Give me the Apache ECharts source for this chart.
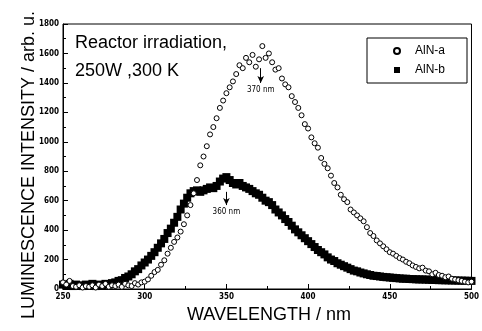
<!DOCTYPE html>
<html>
<head>
<meta charset="utf-8">
<script src="https://cdn.jsdelivr.net/npm/echarts@6/dist/echarts.min.js"></script>
<style>
html,body{margin:0;padding:0;background:#fff;}
#chart{width:482px;height:331px;}
</style>
</head>
<body>
<div id="chart"></div>
<script>
// Wavelength (nm) sampling points, 250..500 every 2 nm
const wavelengths = [
250,252,254,256,258,260,262,264,266,268,270,272,274,276,278,280,282,284,286,288,
290,292,294,296,298,300,302,304,306,308,310,312,314,316,318,320,322,324,326,328,
330,332,334,336,338,340,342,344,346,348,350,352,354,356,358,360,362,364,366,368,
370,372,374,376,378,380,382,384,386,388,390,392,394,396,398,400,402,404,406,408,
410,412,414,416,418,420,422,424,426,428,430,432,434,436,438,440,442,444,446,448,
450,452,454,456,458,460,462,464,466,468,470,472,474,476,478,480,482,484,486,488,
490,492,494,496,498,500
];
// AlN-a (open circles), arb. u.
const alnA = [
45,30,55,20,15,25,10,20,15,25,10,30,20,35,15,25,20,30,15,35,
25,20,40,30,45,50,65,90,115,130,165,195,240,280,320,350,390,440,500,570,
650,740,840,900,970,1050,1100,1160,1230,1280,1330,1370,1410,1460,1520,1500,1570,1540,1590,1510,
1560,1650,1570,1600,1540,1490,1500,1430,1390,1370,1310,1270,1230,1180,1120,1090,1030,990,960,890,
850,820,770,720,690,640,610,590,540,520,500,480,460,420,380,360,330,310,290,270,
250,240,225,210,200,185,175,160,150,140,145,125,120,100,110,95,90,80,85,70,
65,60,55,50,45,50
];
// AlN-b (filled squares), arb. u.
const alnB = [
30,25,35,20,30,25,20,30,25,35,20,30,25,35,30,40,45,55,60,75,
85,100,120,135,160,180,200,225,250,280,310,340,380,410,450,490,540,580,620,650,
665,670,660,670,680,690,685,700,730,750,760,740,720,710,720,700,690,680,665,650,
640,620,600,590,570,540,520,500,475,455,430,405,385,365,345,325,305,285,265,250,
235,215,200,190,175,165,155,145,135,125,120,112,106,100,95,90,88,85,82,80,
78,76,74,72,70,70,68,67,66,65,65,64,63,62,61,60,60,59,59,58,
58,57,57,56,56,55
];
const seriesNames = ['AlN-a', 'AlN-b'];
const xTicks = {min: 250, max: 500, step: 50};
const yTicks = {min: 0, max: 1800, step: 200};
// Peak annotations: [wavelength, arrow start value, arrow end value, label]
const peakA = [371, 1500, 1400, '370 nm'];
const peakB = [350, 660, 570, '360 nm'];

const pairs = (xs, ys) => xs.map((x, i) => [x, ys[i]]);
const tickFont = '"Liberation Sans Narrow","DejaVu Sans Condensed","Arial Narrow",sans-serif';
const mainFont = '"Liberation Sans",Arial,sans-serif';

function arrowMark(p) {
  return {
    silent: true,
    symbol: ['none', 'arrow'],
    symbolSize: [5, 7],
    lineStyle: {color: '#000', width: 1, type: 'solid'},
    label: {show: true, position: 'end', formatter: p[3], color: '#000',
            fontSize: 8, fontFamily: tickFont, distance: 3},
    data: [[{coord: [p[0], p[1]]}, {coord: [p[0], p[2]]}]]
  };
}

const chart = echarts.init(document.getElementById('chart'), null, {renderer: 'canvas'});
chart.setOption({
  animation: false,
  backgroundColor: '#fff',
  grid: {left: 63, right: 4, top: 24, bottom: 42, show: true,
         borderColor: '#000', borderWidth: 1, backgroundColor: 'transparent'},
  xAxis: {
    type: 'value', min: xTicks.min, max: xTicks.max, interval: xTicks.step,
    axisLine: {lineStyle: {color: '#000', width: 1}},
    axisTick: {inside: true, length: 5, lineStyle: {color: '#000'}},
    minorTick: {show: true, splitNumber: 2, length: 3, lineStyle: {color: '#000'}},
    splitLine: {show: false},
    axisLabel: {color: '#000', fontSize: 8, fontWeight: 'bold', fontFamily: tickFont, margin: 4,
                formatter: v => String(v)}
  },
  yAxis: {
    type: 'value', min: yTicks.min, max: yTicks.max, interval: yTicks.step,
    axisLine: {show: true, lineStyle: {color: '#000', width: 1}},
    axisTick: {show: true, inside: true, length: 5, lineStyle: {color: '#000'}},
    minorTick: {show: true, splitNumber: 2, length: 3, lineStyle: {color: '#000'}},
    splitLine: {show: false},
    axisLabel: {color: '#000', fontSize: 8, fontWeight: 'bold', fontFamily: tickFont, margin: 4,
                formatter: v => String(v)}
  },
  legend: {
    left: 367, top: 38, orient: 'vertical',
    data: seriesNames,
    backgroundColor: '#fff', borderColor: '#000', borderWidth: 1,
    padding: [7, 22, 7, 26], itemGap: 7, itemWidth: 6, itemHeight: 6,
    textStyle: {color: '#000', fontSize: 12, fontFamily: mainFont, padding: [0, 0, 0, 10]}
  },
  graphic: [
    {type: 'text', left: 75, top: 34, silent: true,
     style: {text: 'Reactor irradiation,', fill: '#000', font: '18px ' + mainFont}},
    {type: 'text', left: 75, top: 62, silent: true,
     style: {text: '250W ,300 K', fill: '#000', font: '18px ' + mainFont}},
    {type: 'text', x: 29, y: 165, rotation: Math.PI / 2, silent: true,
     style: {text: 'LUMINESCENCE INTENSITY / arb. u.', fill: '#000', font: '18px ' + mainFont,
             align: 'center', verticalAlign: 'middle'}},
    {type: 'text', x: 269, y: 315, silent: true,
     style: {text: 'WAVELENGTH / nm', fill: '#000', font: '18px ' + mainFont,
             align: 'center', verticalAlign: 'middle'}}
  ],
  series: [
    {
      name: 'AlN-b', type: 'scatter', symbol: 'rect', symbolSize: 8,
      itemStyle: {color: '#000', opacity: 1},
      data: pairs(wavelengths, alnB),
      markLine: arrowMark(peakB), z: 2
    },
    {
      name: 'AlN-a', type: 'scatter', symbol: 'circle', symbolSize: 5,
      itemStyle: {color: '#fff', borderColor: '#000', borderWidth: 1, opacity: 1},
      data: pairs(wavelengths, alnA),
      markLine: arrowMark(peakA), z: 3
    }
  ]
});
</script>
</body>
</html>
